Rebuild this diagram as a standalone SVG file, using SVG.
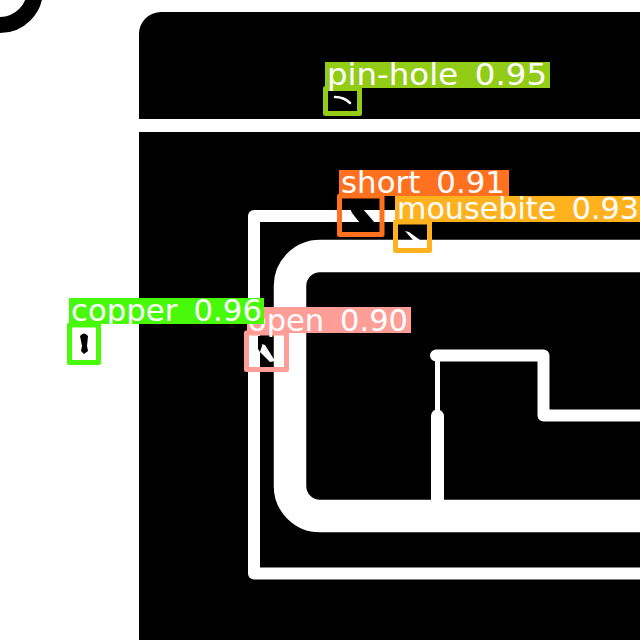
<svg xmlns="http://www.w3.org/2000/svg" width="640" height="640" viewBox="0 0 640 640">
<style>
.w{fill:none;stroke:#fff;stroke-linejoin:round}
.b{fill:none;stroke-width:5;stroke-linejoin:round}
.t{fill:#fff;font-family:"DejaVu Sans",sans-serif;font-size:30px;word-spacing:6px}
</style>
<rect width="640" height="640" fill="#fff"/>
<circle cx="0" cy="-10" r="35" fill="none" stroke="#000" stroke-width="16"/>
<path d="M640 12H161A22 22 0 0 0 139 34V119H640Z" fill="#000"/>
<rect x="139" y="132" width="501" height="508" fill="#000"/>
<g id="traces">
<path class="w" stroke-width="12" d="M640 216H254V573.5H640"/>
<path class="w" stroke-width="32.500" d="M640 256H320A30 30 0 0 0 290 286V486A30 30 0 0 0 320 516H640"/>
<path class="w" stroke-width="12" stroke-linecap="round" d="M640 415.500H543.500V355.500H436"/>
<rect x="435" y="355" width="5" height="58" fill="#fff"/>
<path d="M431 505V416Q431 411 437 409Q444 411 444 416V505Z" fill="#fff"/>
</g>
<g id="defects">
<path d="M350 208H362L375 223H360L352 213Z" fill="#000"/>
<path d="M405 231L409 232L420 240H413Z" fill="#fff"/>
<path d="M258 343L265 345L275 361L270 362L260 352Z" fill="#fff"/>
<path d="M258 336H262V346L260 352L258 349Z" fill="#000"/>
<path d="M80 336Q84 331 88 336L87 346L88 351L84 354L81 351L82 346Z" fill="#000"/>
<path d="M335 97Q344 97 350 103" fill="none" stroke="#fff" stroke-width="2.500" stroke-linecap="round"/>
</g>
<g id="pin-hole">
<rect class="b" x="325.500" y="88.500" width="34" height="25" stroke="#92cc17"/>
<rect x="325" y="62" width="225" height="26" fill="#92cc17"/>
<text class="t" x="327" y="85" textLength="220" lengthAdjust="spacingAndGlyphs">pin-hole 0.95</text>
</g>
<g id="short">
<rect class="b" x="339.500" y="196" width="42.500" height="38.500" stroke="#ff701f"/>
<rect x="339" y="170" width="170" height="26" fill="#ff701f"/>
<text class="t" x="341" y="193" textLength="164" lengthAdjust="spacingAndGlyphs">short 0.91</text>
</g>
<g id="mousebite">
<rect class="b" x="395.500" y="222" width="34" height="28.500" stroke="#ffb21d"/>
<rect x="395" y="196" width="245" height="26" fill="#ffb21d"/>
<text class="t" x="397" y="219" textLength="242" lengthAdjust="spacingAndGlyphs">mousebite 0.93</text>
</g>
<g id="open">
<rect class="b" x="246.500" y="333" width="40" height="36.500" stroke="#ff9d97"/>
<rect x="247" y="307" width="164" height="26" fill="#ff9d97"/>
<text class="t" x="248" y="331" textLength="160" lengthAdjust="spacingAndGlyphs">open 0.90</text>
</g>
<g id="copper">
<rect class="b" x="69.500" y="325" width="29" height="37.500" stroke="#48f90a"/>
<rect x="69" y="298" width="195" height="26" fill="#48f90a"/>
<text class="t" x="71" y="321" textLength="191" lengthAdjust="spacingAndGlyphs">copper 0.96</text>
</g>
</svg>
